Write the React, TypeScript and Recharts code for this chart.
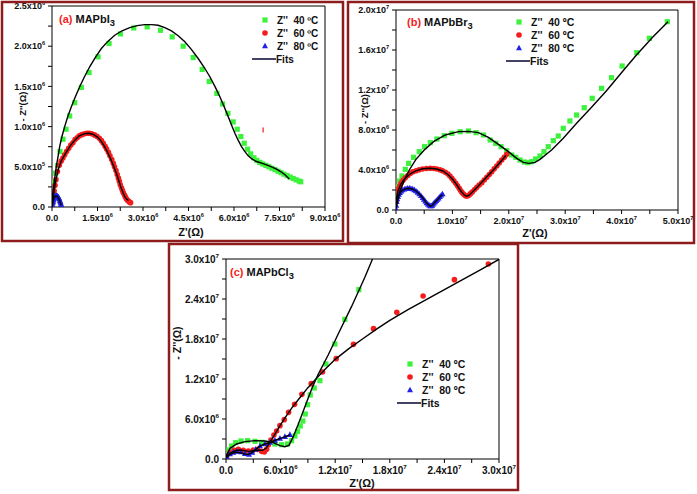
import React from "react";
import { ComposedChart, Scatter, XAxis, YAxis, ReferenceLine } from "recharts";

type P = [number, number];
const toXY = (arr: P[]) => arr.map(([x, y]) => ({ x: x * 1e6, y: y * 1e6 }));

const GREEN = "#3cf23c";
const RED = "#f51c1c";
const BLUE = "#2020e8";
const FRAME = "#8e1c1c";
const FONT = "'Liberation Sans', Arial, sans-serif";

// ---- panel (a) MAPbI3, values in 1e6 ohm
const a40: P[] = [
  [0.066, 0.318], [0.121, 0.421], [0.187, 0.516], [0.264, 0.69], [0.363, 0.843],
  [0.462, 0.967], [0.583, 1.132], [0.748, 1.297], [0.968, 1.488], [1.221, 1.673],
  [1.518, 1.868], [1.881, 2.033], [2.255, 2.153], [2.695, 2.227], [3.136, 2.24],
  [3.576, 2.198], [3.961, 2.116], [4.324, 2.0], [4.654, 1.859], [4.951, 1.711],
  [5.182, 1.562], [5.435, 1.413], [5.622, 1.281], [5.798, 1.165], [5.974, 1.058],
  [6.106, 0.967], [6.227, 0.876], [6.337, 0.793], [6.447, 0.719], [6.546, 0.661],
  [6.656, 0.612], [6.75, 0.58], [6.85, 0.555], [6.95, 0.535], [7.05, 0.518],
  [7.15, 0.5], [7.25, 0.482], [7.35, 0.465], [7.45, 0.445], [7.55, 0.427],
  [7.65, 0.408], [7.75, 0.39], [7.85, 0.372], [7.95, 0.355], [8.05, 0.338],
  [8.15, 0.322], [8.2, 0.314],
];
const a60: P[] = [
  [0.02, 0.05], [0.04, 0.13], [0.07, 0.2], [0.1, 0.27], [0.13, 0.34], [0.18, 0.44],
  [0.24, 0.52], [0.3, 0.57], [0.36, 0.61], [0.42, 0.65], [0.48, 0.69], [0.55, 0.73],
  [0.62, 0.77], [0.69, 0.8], [0.76, 0.84], [0.83, 0.86], [0.9, 0.885], [0.98, 0.9],
  [1.07, 0.91], [1.15, 0.917], [1.23, 0.917], [1.31, 0.91], [1.4, 0.897], [1.48, 0.88],
  [1.56, 0.855], [1.63, 0.825], [1.69, 0.793], [1.75, 0.755], [1.8, 0.72], [1.86, 0.68],
  [1.91, 0.636], [1.97, 0.59], [2.02, 0.545], [2.06, 0.5], [2.11, 0.454], [2.15, 0.405],
  [2.19, 0.359], [2.22, 0.32], [2.25, 0.277], [2.29, 0.24], [2.32, 0.207], [2.35, 0.177],
  [2.39, 0.149], [2.42, 0.125], [2.45, 0.103], [2.48, 0.087], [2.52, 0.074],
  [2.55, 0.063], [2.59, 0.054],
];
const a80: P[] = [
  [0.005, 0.01], [0.011, 0.029], [0.022, 0.05], [0.033, 0.07], [0.044, 0.088],
  [0.055, 0.103], [0.07, 0.116], [0.088, 0.128], [0.104, 0.135], [0.121, 0.14],
  [0.143, 0.141], [0.165, 0.14], [0.187, 0.133], [0.209, 0.124], [0.226, 0.112],
  [0.242, 0.099], [0.258, 0.083], [0.275, 0.066], [0.286, 0.05], [0.297, 0.033],
  [0.308, 0.02], [0.319, 0.008],
];
// isolated red mark near 7e6
const a60Stray: P[] = [[6.96, 0.958]];
const a40Fit: P[] = [
  [0, 0.09], [0.055, 0.256], [0.1, 0.385], [0.143, 0.504], [0.2, 0.63], [0.253, 0.752],
  [0.33, 0.88], [0.418, 1.0], [0.52, 1.125], [0.638, 1.248], [0.77, 1.372], [0.913, 1.496],
  [1.07, 1.62], [1.243, 1.744], [1.43, 1.862], [1.628, 1.971], [1.84, 2.06], [2.068, 2.136],
  [2.31, 2.192], [2.563, 2.231], [2.81, 2.256], [3.058, 2.268], [3.28, 2.268], [3.499, 2.26],
  [3.72, 2.232], [3.939, 2.19], [4.16, 2.13], [4.379, 2.054], [4.6, 1.958], [4.819, 1.847],
  [5.02, 1.735], [5.204, 1.62], [5.375, 1.497], [5.534, 1.372], [5.68, 1.245], [5.809, 1.124],
  [5.925, 1.015], [6.029, 0.917], [6.14, 0.828], [6.249, 0.752], [6.36, 0.688], [6.469, 0.636],
  [6.6, 0.595], [6.744, 0.566], [6.91, 0.545], [7.074, 0.525], [7.24, 0.5], [7.404, 0.471],
  [7.55, 0.438], [7.679, 0.401], [7.822, 0.347],
];
const a60Fit: P[] = [
  [0, 0], [0.05, 0.15], [0.12, 0.32], [0.2, 0.46], [0.3, 0.57], [0.45, 0.67], [0.6, 0.76],
  [0.75, 0.83], [0.9, 0.885], [1.05, 0.91], [1.2, 0.918], [1.35, 0.905], [1.5, 0.87],
  [1.62, 0.82], [1.72, 0.76], [1.82, 0.69], [1.92, 0.61], [2.02, 0.52], [2.12, 0.42],
  [2.2, 0.33], [2.27, 0.25], [2.34, 0.18], [2.4, 0.13], [2.46, 0.1], [2.52, 0.08],
];
const a80Fit: P[] = [
  [0.01, 0.02], [0.04, 0.08], [0.08, 0.12], [0.13, 0.138], [0.18, 0.13], [0.23, 0.1],
  [0.27, 0.06], [0.3, 0.02],
];
const aXTicks = [0, 0.75e6, 1.5e6, 2.25e6, 3e6, 3.75e6, 4.5e6, 5.25e6, 6e6, 6.75e6, 7.5e6, 8.25e6, 9e6];
const aXMajor = [0, 1.5e6, 3e6, 4.5e6, 6e6, 7.5e6, 9e6];
const aYTicks = [0, 2.5e5, 5e5, 7.5e5, 1e6, 1.25e6, 1.5e6, 1.75e6, 2e6, 2.25e6, 2.5e6];
const aYMajor = [0, 5e5, 1e6, 1.5e6, 2e6, 2.5e6];

// ---- panel (b) MAPbBr3
const b40: P[] = [
  [0.059, 1.667], [0.354, 2.333], [0.649, 2.9], [1.061, 3.4], [1.651, 4.067], [2.241, 4.667],
  [3.125, 5.267], [4.127, 5.833], [5.071, 6.333], [6.073, 6.733], [7.252, 7.1], [8.549, 7.433],
  [9.906, 7.667], [11.38, 7.833], [12.85, 7.9], [14.21, 7.733], [15.51, 7.5], [16.69, 7.0],
  [17.69, 6.667], [18.63, 6.333], [19.63, 5.933], [20.52, 5.5], [21.23, 5.267], [21.99, 5.0],
  [22.76, 4.8], [23.35, 4.733], [24.06, 4.833], [24.76, 5.1], [25.53, 5.4], [26.24, 5.833],
  [27.0, 6.333], [27.89, 6.933], [28.77, 7.4], [29.66, 8.167], [30.84, 8.9], [32.02, 9.5],
  [33.37, 10.23], [34.79, 11.17], [36.44, 12.17], [38.21, 13.23], [40.09, 14.4],
  [42.69, 15.73], [44.93, 17.17], [48.11, 18.83],
];
const b60: P[] = [
  [0.05, 0.8], [0.1, 1.2], [0.18, 1.73], [0.3, 1.95], [0.47, 2.17], [0.7, 2.45], [0.94, 2.73],
  [1.25, 2.97], [1.65, 3.23], [2.1, 3.45], [2.55, 3.67], [3.0, 3.82], [3.55, 3.93], [4.1, 4.03],
  [4.7, 4.1], [5.4, 4.15], [6.07, 4.17], [6.7, 4.15], [7.25, 4.1], [7.8, 4.02], [8.25, 3.93],
  [8.75, 3.78], [9.2, 3.6], [9.55, 3.4], [9.9, 3.17], [10.25, 2.92], [10.6, 2.67], [10.9, 2.42],
  [11.2, 2.17], [11.45, 1.95], [11.67, 1.77], [11.9, 1.62], [12.15, 1.5], [12.35, 1.43],
  [12.56, 1.4], [12.77, 1.44], [12.97, 1.5], [13.25, 1.66], [13.56, 1.83], [13.95, 2.05],
  [14.33, 2.27], [14.75, 2.5], [15.21, 2.73], [15.65, 3.0], [16.1, 3.27], [16.55, 3.55],
  [16.98, 3.83], [17.42, 4.12], [17.87, 4.4], [18.3, 4.7], [18.75, 5.0], [19.2, 5.28],
  [19.63, 5.57],
];
const b80: P[] = [
  [0.02, 0.07], [0.05, 0.45], [0.12, 0.83], [0.22, 1.1], [0.35, 1.33], [0.52, 1.55],
  [0.71, 1.73], [0.93, 1.88], [1.18, 2.0], [1.47, 2.08], [1.77, 2.13], [2.06, 2.16],
  [2.36, 2.17], [2.65, 2.14], [2.95, 2.1], [3.25, 2.01], [3.54, 1.9], [3.83, 1.76],
  [4.13, 1.6], [4.42, 1.42], [4.72, 1.23], [4.95, 1.05], [5.19, 0.87], [5.42, 0.71],
  [5.66, 0.57], [5.87, 0.47], [6.07, 0.4], [6.22, 0.41], [6.37, 0.43], [6.55, 0.55],
  [6.72, 0.67], [6.93, 0.8], [7.13, 0.93], [7.34, 1.05], [7.55, 1.17], [7.78, 1.32],
  [8.02, 1.47], [8.25, 1.6],
];
const b40Fit: P[] = [
  [0, 0.167], [0.295, 1.0], [0.767, 2.0], [1.474, 3.0], [2.358, 4.0], [3.538, 5.067],
  [5.012, 6.0], [6.663, 6.833], [8.726, 7.5], [11.08, 7.833], [12.85, 7.867], [14.62, 7.733],
  [16.39, 7.267], [18.16, 6.567], [19.93, 5.833], [21.4, 5.167], [22.58, 4.767], [23.58, 4.667],
  [24.65, 4.767], [25.53, 5.067], [27.59, 6.0], [29.66, 7.167], [32.02, 8.667], [34.67, 10.27],
  [37.32, 11.93], [40.27, 13.93], [42.63, 15.5], [45.58, 17.33], [48.23, 18.83],
];
const b60Fit: P[] = [
  [0, 0.9], [0.3, 1.8], [0.8, 2.55], [1.5, 3.1], [2.5, 3.6], [3.5, 3.92], [4.7, 4.12],
  [6.0, 4.18], [7.2, 4.1], [8.3, 3.9], [9.2, 3.55], [10.0, 3.1], [10.8, 2.5], [11.5, 1.9],
  [12.1, 1.5], [12.5, 1.38], [12.9, 1.45], [13.5, 1.78], [14.5, 2.35], [15.5, 2.95],
  [16.5, 3.55], [17.5, 4.15], [18.5, 4.8], [19.5, 5.45],
];
const b80Fit: P[] = [
  [0, 0.1], [0.1, 0.7], [0.4, 1.35], [0.9, 1.85], [1.5, 2.08], [2.2, 2.17], [2.9, 2.1],
  [3.6, 1.88], [4.2, 1.57], [4.8, 1.17], [5.4, 0.72], [5.9, 0.45], [6.15, 0.38], [6.4, 0.45],
  [6.9, 0.78], [7.5, 1.13], [8.2, 1.55],
];
const bXTicks = [0, 5e6, 1e7, 1.5e7, 2e7, 2.5e7, 3e7, 3.5e7, 4e7, 4.5e7, 5e7];
const bXMajor = [0, 1e7, 2e7, 3e7, 4e7, 5e7];
const bYTicks = [0, 2e6, 4e6, 6e6, 8e6, 1e7, 1.2e7, 1.4e7, 1.6e7, 1.8e7, 2e7];
const bYMajor = [0, 4e6, 8e6, 1.2e7, 1.6e7, 2e7];

// ---- panel (c) MAPbCl3
const c40: P[] = [
  [0.073, 0.6], [0.329, 1.35], [0.622, 1.95], [1.061, 2.45], [1.646, 2.7], [2.378, 2.75],
  [3.183, 2.65], [3.915, 2.5], [4.646, 2.35], [5.378, 2.25], [6.11, 2.15], [6.768, 2.25],
  [7.207, 2.75], [7.573, 3.45], [7.866, 4.15], [8.159, 4.95], [8.451, 5.7], [8.707, 6.75],
  [8.963, 8.15], [9.256, 9.6], [9.695, 10.65], [10.32, 11.75], [10.98, 14.25], [11.96, 17.25],
  [13.06, 20.95], [14.6, 25.4],
];
const c60: P[] = [
  [0.073, 0.45], [0.439, 0.95], [0.878, 1.3], [1.354, 1.45], [1.902, 1.3], [2.451, 1.2],
  [3.0, 1.35], [3.476, 1.45], [3.915, 1.15], [4.207, 1.05], [4.463, 1.45], [4.646, 2.1],
  [4.939, 2.85], [5.268, 3.6], [5.561, 4.2], [5.927, 5.0], [6.402, 5.9], [6.878, 7.0],
  [7.537, 8.2], [8.341, 9.7], [9.366, 11.3], [10.61, 13.05], [12.11, 15.05], [14.01, 17.2],
  [16.21, 19.55], [18.77, 22.0], [21.66, 24.45], [25.1, 26.9], [28.83, 29.25],
];
const c80: P[] = [
  [0.073, 0.35], [0.439, 0.75], [0.805, 1.0], [1.171, 1.15], [1.646, 1.05], [2.085, 0.8],
  [2.524, 0.7], [2.89, 1.0], [3.256, 1.45], [3.732, 1.95], [4.28, 2.25], [4.829, 2.5],
  [5.378, 2.8], [5.927, 3.1], [6.476, 3.35], [7.024, 3.65],
];
const c40Fit: P[] = [
  [0, 0.35], [0.439, 1.6], [1.171, 2.25], [2.085, 2.6], [3.183, 2.75], [4.28, 2.7],
  [5.195, 2.45], [5.927, 2.0], [6.476, 1.85], [6.915, 2.05], [7.39, 3.35], [7.939, 5.2],
  [8.671, 7.85], [9.402, 10.45], [10.13, 12.7], [11.23, 15.6], [12.33, 18.75], [13.79, 22.85],
  [15.26, 27.25], [16.1, 30.0],
];
const c60Fit: P[] = [
  [0, 0.3], [0.5, 0.9], [1.0, 1.25], [1.5, 1.35], [2.0, 1.25], [2.5, 1.15], [3.0, 1.25],
  [3.5, 1.35], [4.0, 1.3], [4.4, 1.6], [4.8, 2.45], [5.3, 3.55], [5.9, 4.95], [6.5, 6.2],
  [7.2, 7.6], [8.0, 9.0], [9.0, 10.7], [10.0, 12.2], [11.0, 13.6], [12.0, 14.95],
  [13.5, 16.55], [15.0, 18.0], [16.5, 19.45], [18.0, 20.8], [20.0, 22.4], [22.0, 23.9],
  [24.0, 25.4], [26.0, 26.9], [28.0, 28.4], [30.0, 29.95],
];
const c80Fit: P[] = [
  [0, 0.2], [0.5, 0.75], [1.0, 1.0], [1.5, 0.95], [2.0, 0.75], [2.5, 0.7], [3.0, 1.1],
  [3.5, 1.7], [4.0, 2.1], [4.8, 2.5], [5.5, 2.85], [6.2, 3.2], [7.0, 3.6],
];
const cTicks = [0, 3e6, 6e6, 9e6, 1.2e7, 1.5e7, 1.8e7, 2.1e7, 2.4e7, 2.7e7, 3e7];
const cMajor = [0, 6e6, 1.2e7, 1.8e7, 2.4e7, 3e7];

const legendLabels = ["Z''  40 ºC", "Z''  60 ºC", "Z''  80 ºC", "Fits"];

const Square = (p: any) => <rect x={p.cx - 2.6} y={p.cy - 2.6} width={5.2} height={5.2} fill={GREEN} />;
const Dot = (p: any) => <circle cx={p.cx} cy={p.cy} r={2.8} fill={RED} />;
const Tri = (p: any) => (
  <polygon points={`${p.cx},${p.cy - 3.3} ${p.cx - 3},${p.cy + 2.3} ${p.cx + 3},${p.cy + 2.3}`} fill={BLUE} />
);
const Tick = (p: any) => <rect x={p.cx - 0.6} y={p.cy - 2.5} width={1.2} height={5} fill={RED} />;
const Nothing = () => <g />;

function sci(v: number) {
  if (v === 0) return ["0.0", ""];
  const e = Math.floor(Math.log10(v) + 1e-9);
  return [(v / Math.pow(10, e)).toFixed(1), String(e)];
}

function makeTick(majors: number[], fs: number, bottom: boolean) {
  return (props: any) => {
    const v = props.payload.value;
    if (!majors.some((m) => Math.abs(m - v) < 1)) return <g />;
    const [m, e] = sci(v);
    return (
      <text
        x={props.x}
        y={props.y}
        dy={bottom ? fs * 0.75 : fs * 0.35}
        textAnchor={props.textAnchor}
        fontSize={fs}
        fontWeight="bold"
        fontFamily={FONT}
        fill="#111"
      >
        {e ? `${m}x10` : m}
        {e ? (
          <tspan dy={-fs * 0.45} fontSize={fs * 0.62}>
            {e}
          </tspan>
        ) : null}
      </text>
    );
  };
}

type PanelProps = {
  left: number; top: number; w: number; h: number;
  yWidth: number; xHeight: number; mTop: number; mRight: number;
  xMax: number; yMax: number;
  xTicks: number[]; xMajor: number[]; yTicks: number[]; yMajor: number[];
  fs: number;
  d40: P[]; d60: P[]; d80: P[]; f40: P[]; f60: P[]; f80: P[];
  stray?: P[];
};

function Panel(p: PanelProps) {
  const fits = [p.f40, p.f60, p.f80];
  return (
    <div style={{ position: "absolute", left: p.left, top: p.top }}>
      <ComposedChart width={p.w} height={p.h} margin={{ top: p.mTop, right: p.mRight, left: 0, bottom: 0 }}>
        <XAxis
          type="number"
          dataKey="x"
          domain={[0, p.xMax]}
          ticks={p.xTicks}
          interval={0}
          height={p.xHeight}
          tickSize={4}
          tickMargin={3}
          stroke="#000"
          allowDataOverflow
          tick={makeTick(p.xMajor, p.fs, true)}
        />
        <YAxis
          type="number"
          dataKey="y"
          domain={[0, p.yMax]}
          ticks={p.yTicks}
          interval={0}
          width={p.yWidth}
          tickSize={4}
          tickMargin={3}
          stroke="#000"
          allowDataOverflow
          tick={makeTick(p.yMajor, p.fs, false)}
        />
        <ReferenceLine x={p.xMax} stroke="#000" strokeWidth={1} />
        <ReferenceLine y={p.yMax} stroke="#000" strokeWidth={1} />
        <Scatter data={toXY(p.d40)} shape={Square} isAnimationActive={false} />
        <Scatter data={toXY(p.d60)} shape={Dot} isAnimationActive={false} />
        <Scatter data={toXY(p.d80)} shape={Tri} isAnimationActive={false} />
        {p.stray ? <Scatter data={toXY(p.stray)} shape={Tick} isAnimationActive={false} /> : null}
        {fits.map((f, i) => (
          <Scatter
            key={i}
            data={toXY(f)}
            line={{ stroke: "#000", strokeWidth: 1.4, fill: "none" }}
            lineType="joint"
            shape={Nothing}
            isAnimationActive={false}
          />
        ))}
      </ComposedChart>
    </div>
  );
}

function LegendBox({ x, y, step, fs }: { x: number; y: number; step: number; fs: number }) {
  return (
    <g fontFamily={FONT} fontWeight="bold" fontSize={fs} fill="#111">
      <rect x={x - 2.6} y={y - 2.6} width={5.2} height={5.2} fill={GREEN} />
      <circle cx={x} cy={y + step} r={2.8} fill={RED} />
      <polygon points={`${x},${y + 2 * step - 3.3} ${x - 3},${y + 2 * step + 2.3} ${x + 3},${y + 2 * step + 2.3}`} fill={BLUE} />
      <line x1={x - 13} x2={x + 11} y1={y + 3 * step} y2={y + 3 * step} stroke="#14143a" strokeWidth={1.6} />
      {legendLabels.map((t, i) => (
        <text key={t} x={i === 3 ? x + 11 : x + 12} y={y + i * step} dy={fs * 0.36} xmlSpace="preserve">
          {t}
        </text>
      ))}
    </g>
  );
}

function Title({ x, y, tag, name, fs }: { x: number; y: number; tag: string; name: string; fs: number }) {
  return (
    <text x={x} y={y} fontFamily={FONT} fontWeight="bold" fontSize={fs} fill="#111">
      <tspan fill={RED}>{tag}</tspan>
      <tspan> {name}</tspan>
      <tspan dy={fs * 0.3} fontSize={fs * 0.85}>3</tspan>
    </text>
  );
}

function AxisLabels({ xx, xy, yx, yy, fs, yfs }: { xx: number; xy: number; yx: number; yy: number; fs: number; yfs: number }) {
  return (
    <g fontFamily={FONT} fontWeight="bold" fill="#111">
      <text x={xx} y={xy} textAnchor="middle" dy={fs * 0.35} fontSize={fs}>Z'(Ω)</text>
      <text x={yx} y={yy} textAnchor="middle" dy={yfs * 0.35} fontSize={yfs} transform={`rotate(-90 ${yx} ${yy})`}>
        - Z''(Ω)
      </text>
    </g>
  );
}

export default function App() {
  return (
    <div style={{ position: "absolute", left: 0, top: 0, width: 697, height: 494, background: "#fff", overflow: "hidden" }}>
      <Panel
        left={0} top={0} w={345} h={245} yWidth={52} xHeight={38} mTop={6} mRight={20}
        xMax={9e6} yMax={2.5e6} xTicks={aXTicks} xMajor={aXMajor} yTicks={aYTicks} yMajor={aYMajor} fs={9}
        d40={a40} d60={a60} d80={a80} f40={a40Fit} f60={a60Fit} f80={a80Fit} stray={a60Stray}
      />
      <Panel
        left={345} top={0} w={352} h={245} yWidth={51} xHeight={35} mTop={10} mRight={19}
        xMax={5e7} yMax={2e7} xTicks={bXTicks} xMajor={bXMajor} yTicks={bYTicks} yMajor={bYMajor} fs={9}
        d40={b40} d60={b60} d80={b80} f40={b40Fit} f60={b60Fit} f80={b80Fit}
      />
      <Panel
        left={165} top={240} w={370} h={254} yWidth={61} xHeight={35} mTop={19} mRight={36}
        xMax={3e7} yMax={3e7} xTicks={cTicks} xMajor={cMajor} yTicks={cTicks} yMajor={cMajor} fs={10}
        d40={c40} d60={c60} d80={c80} f40={c40Fit} f60={c60Fit} f80={c80Fit}
      />
      <svg width={697} height={494} style={{ position: "absolute", left: 0, top: 0, pointerEvents: "none" }}>
        <rect x={2} y={2} width={341} height={239} fill="none" stroke={FRAME} strokeWidth={2.5} />
        <rect x={348} y={2} width={346} height={241} fill="none" stroke={FRAME} strokeWidth={2.5} />
        <rect x={169} y={244} width={349} height={246} fill="none" stroke={FRAME} strokeWidth={2.5} />
        <Title x={59} y={23} tag="(a)" name="MAPbI" fs={11} />
        <Title x={407} y={26} tag="(b)" name="MAPbBr" fs={11} />
        <Title x={230} y={276} tag="(c)" name="MAPbCl" fs={11} />
        <LegendBox x={265} y={20} step={13} fs={10} />
        <LegendBox x={519} y={22} step={13} fs={10.5} />
        <LegendBox x={410} y={364} step={13} fs={10.5} />
        <AxisLabels xx={191} xy={232} yx={23} yy={106.5} fs={11} yfs={9.5} />
        <AxisLabels xx={535} xy={233} yx={365} yy={109} fs={11} yfs={9.5} />
        <AxisLabels xx={362} xy={483} yx={177} yy={343} fs={11} yfs={10.5} />
      </svg>
    </div>
  );
}
